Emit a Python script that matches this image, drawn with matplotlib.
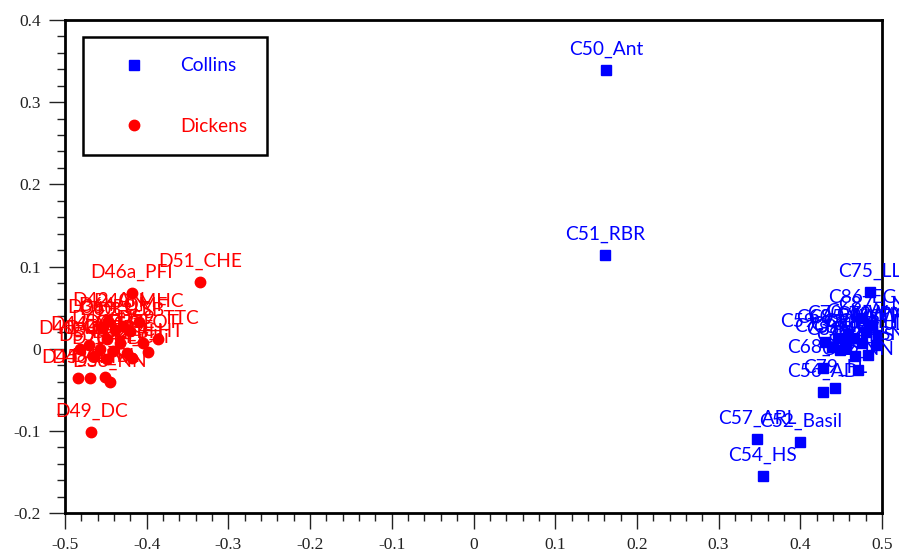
import numpy as np
import matplotlib.pyplot as plt
from matplotlib.ticker import MultipleLocator, FuncFormatter

# Collins texts
collins_labels = ['C50_Ant', 'C51_RBR', 'C52_Basil', 'C54_HS', 'C57_ARL', 'C56_AD',
                  'C79_FL', 'C68_MS', 'C62_NN', 'C75_LL', 'C86_EG', 'C87_LN',
                  'C70_MW', 'C59_QOH', 'C60_WW', 'C66_Arm', 'C72_PMF', 'C73_NM',
                  'C76_TD', 'C78_HH', 'C80_JD', 'C81_BR', 'C83_HaS', 'C84_ISN',
                  'C89_BL', 'C85_MSW']
collins_x = [0.162, 0.161, 0.400, 0.354, 0.347, 0.428,
             0.4425, 0.428, 0.4706, 0.485, 0.4755, 0.488,
             0.458, 0.430, 0.446, 0.480, 0.495, 0.439,
             0.455, 0.4755, 0.4927, 0.4486, 0.467, 0.483,
             0.456, 0.4660]
collins_y = [0.339, 0.114, -0.114, -0.1545, -0.1095, -0.0523,
             -0.0474, -0.0231, -0.0255, 0.0685, 0.0377, 0.029,
             0.018, 0.0085, 0.0134, 0.0207, 0.017, 0.0024,
             0.005, 0.0073, 0.0049, -0.0012, -0.0085, -0.0073,
             0.0012, 0.0134]

# Dickens texts
dickens_labels = ['D51_CHE', 'D46a_PFI', 'D42_AN', 'D40_MHC', 'D64_OMF', 'D36_PP',
                  'D60_UT', 'D33_SB', 'D59_TTC', 'D46_DS', 'D60_GE', 'D37_OT',
                  'D44_MC', 'D40_OCS', 'D41_BR', 'D43_ACC', 'D52_BH', 'D54_HT',
                  'D55_LD', 'D70_ED', 'D44_Chi', 'D45_CH', 'D48_HM', 'D46_BL',
                  'D38_NN', 'D49_DC']
dickens_x = [-0.335, -0.418, -0.447, -0.410, -0.429, -0.455,
             -0.439, -0.420, -0.386, -0.449, -0.433, -0.404,
             -0.471, -0.482, -0.457, -0.441, -0.424, -0.398,
             -0.465, -0.449, -0.418, -0.484, -0.469, -0.451,
             -0.445, -0.468]
dickens_y = [0.0815, 0.068, 0.034, 0.033, 0.028, 0.025,
             0.023, 0.021, 0.012, 0.012, 0.007, 0.007,
             0.005, 0.0, -0.001, -0.003, -0.005, -0.004,
             -0.009, -0.013, -0.011, -0.036, -0.036, -0.034,
             -0.041, -0.102]

blue = '#0000ff'
red = '#ff0000'
lab_font = 'Lato'
lab_size = 13.8

fig = plt.figure(figsize=(8.99, 5.55), dpi=100)
ax = fig.add_axes([65/899, 1 - 513/555, 817/899, 493/555])

ax.plot(collins_x, collins_y, ls='none', marker='s', ms=7, color=blue, label='Collins')
ax.plot(dickens_x, dickens_y, ls='none', marker='o', ms=7.5, color=red, label='Dickens')

for lab, x, y in zip(collins_labels, collins_x, collins_y):
    ax.annotate(lab, (x, y), xytext=(0, 11), textcoords='offset points',
                ha='center', va='baseline', color=blue, fontsize=lab_size,
                family=lab_font)
for lab, x, y in zip(dickens_labels, dickens_x, dickens_y):
    ax.annotate(lab, (x, y), xytext=(0, 11), textcoords='offset points',
                ha='center', va='baseline', color=red, fontsize=lab_size,
                family=lab_font)

ax.set_xlim(-0.5, 0.5)
ax.set_ylim(-0.2, 0.4)

ax.xaxis.set_major_locator(MultipleLocator(0.1))
ax.xaxis.set_minor_locator(MultipleLocator(0.02))
ax.yaxis.set_major_locator(MultipleLocator(0.1))
ax.yaxis.set_minor_locator(MultipleLocator(0.02))
fmt = FuncFormatter(lambda v, p: '0' if abs(v) < 1e-9 else f'{v:.1f}')
ax.xaxis.set_major_formatter(fmt)
ax.yaxis.set_major_formatter(fmt)

ax.tick_params(which='major', direction='out', length=11.5, width=1, pad=6,
               labelsize=12.5, color='#222222', labelcolor='#222222')
ax.tick_params(which='minor', direction='out', length=5.8, width=1, color='#222222')
ax.tick_params(top=False, right=False, which='both')
for t in ax.get_xticklabels() + ax.get_yticklabels():
    t.set_family('Liberation Serif')

for s in ax.spines.values():
    s.set_linewidth(2)
    s.set_color('black')

leg = ax.legend(loc='upper left', bbox_to_anchor=(18/817, 476/493),
                prop={'family': lab_font, 'size': lab_size}, fancybox=False,
                framealpha=1, edgecolor='black', borderpad=1.06, labelspacing=2.28,
                handlelength=3.2, handletextpad=0.8, borderaxespad=0)
leg.get_frame().set_linewidth(1.8)
for txt, c in zip(leg.get_texts(), [blue, red]):
    txt.set_color(c)

plt.savefig('out.png', dpi=100)
